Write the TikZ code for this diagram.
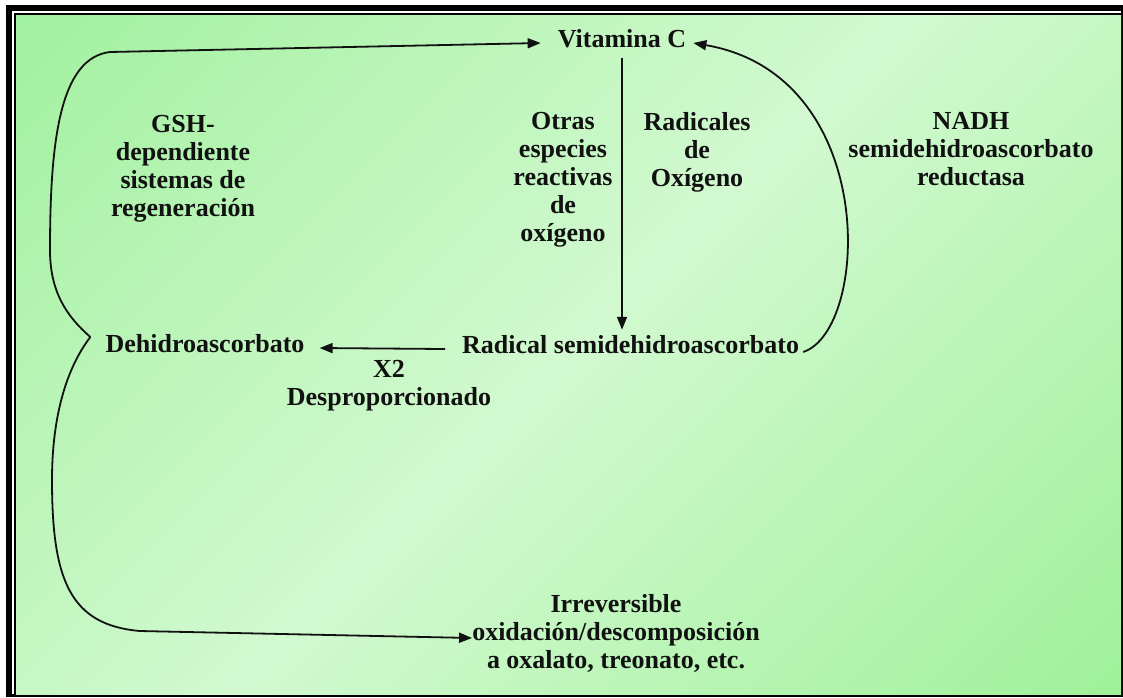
\documentclass[tikz,border=0pt]{standalone}
\usepackage{fontspec}
\setmainfont{Liberation Serif}
\usetikzlibrary{arrows.meta}
\definecolor{gA}{HTML}{9EF09C}
\definecolor{gL}{HTML}{D2F9D0}
\definecolor{gB}{HTML}{9CF096}
\definecolor{ink}{HTML}{111111}
\pgfdeclareverticalshading{bgshade}{100bp}{color(0bp)=(gB); color(12bp)=(gB); color(50bp)=(gL); color(88bp)=(gA); color(100bp)=(gA)}
\begin{document}
\begin{tikzpicture}[x=1pt,y=-1pt,
  txt/.style={font=\bfseries\fontsize{26}{28}\selectfont, inner sep=0pt, align=center, text=ink},
  conn/.style={draw=ink, line width=1.8pt},
  arr/.style={conn, -{Triangle[length=13pt,width=10pt]}}]
\useasboundingbox (0,0) rectangle (1123,697);
\fill[white] (0,0) rectangle (1123,697);
\fill[black] (6,5) rectangle (1123,697);
\fill[white] (12,11) rectangle (1121,694);
\fill[black] (14,13) rectangle (1121,694);
\shade[shading=bgshade, shading angle=45] (16,15) rectangle (1121,694);

\node[txt, anchor=base] (vitc) at (622,47) {Vitamina C};
\node[txt, anchor=base] (dehidro) at (205,352) {Dehidroascorbato};
\node[txt, anchor=base west] (radical) at (462,353) {Radical semidehidroascorbato};
\node[txt, anchor=north] (despro) at (389,360.5) {X2\\Desproporcionado};
\node[txt, anchor=north] (gsh) at (183,115.5) {GSH-\\dependiente\\sistemas de\\regeneración};
\node[txt, anchor=north] (otras) at (563,112.5) {Otras\\especies\\reactivas\\de\\oxígeno};
\node[txt, anchor=north] (radicales) at (697,112.5) {Radicales\\de\\Oxígeno};
\node[txt, anchor=north] (nadh) at (971,112.5) {NADH\\semidehidroascorbato\\reductasa};
\node[txt, anchor=north] (irrev) at (616,594.5) {Irreversible\\oxidación/descomposición\\a oxalato, treonato, etc.};

\coordinate (J) at ([xshift=-15pt,yshift=15pt]dehidro.base west);

% vertical: Vitamina C -> Radical
\draw[arr, shorten >=5pt] ([yshift=-10pt]vitc.south) -- (vitc.south |- radical.north);
% Radical -> Dehidroascorbato
\draw[arr] ([xshift=-17pt,yshift=4pt]radical.base west) -- ([xshift=15pt,yshift=4pt]dehidro.base east);
% Radical -> Vitamina C (NADH)
\draw[arr] ([xshift=4pt,yshift=1pt]radical.base east) .. controls (870,330) and (880,75) .. ([xshift=7pt,yshift=4pt]vitc.base east);
% Dehidro -> Vitamina C (GSH)
\draw[arr] (J) .. controls (65,315) and (50,290) .. (50,250) .. controls (50,140) and (60,58) .. (110,52) -- ([xshift=-17pt,yshift=4pt]vitc.base west);
% Dehidro -> Irreversible
\draw[arr] (J) .. controls (65,370) and (52,420) .. (52,480) .. controls (52,580) and (70,625) .. (140,631) -- ([yshift=-43.5pt]irrev.north west);
\end{tikzpicture}
\end{document}
